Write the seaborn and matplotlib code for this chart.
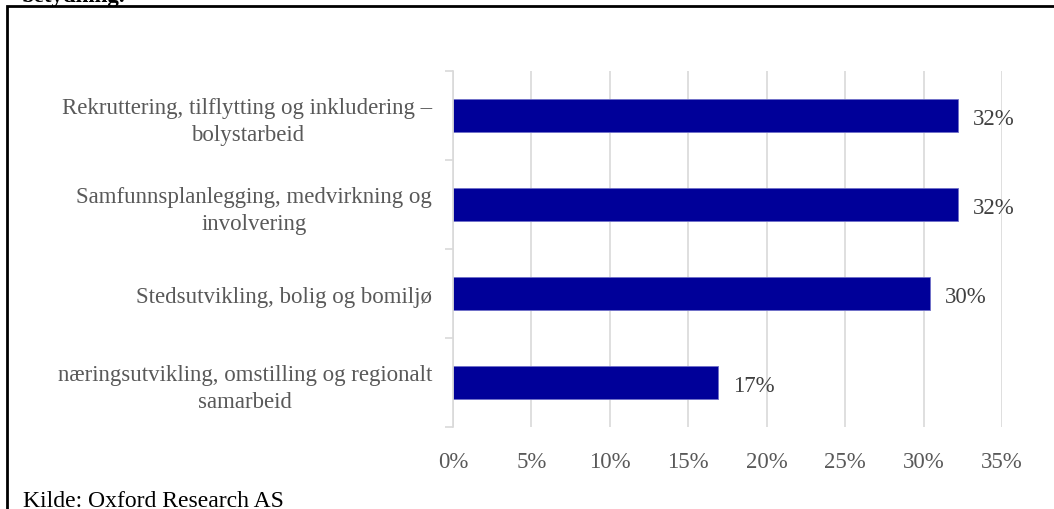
import matplotlib
matplotlib.use("Agg")
import matplotlib.pyplot as plt
import seaborn as sns
import pandas as pd
from matplotlib.patches import Rectangle
from matplotlib.ticker import FuncFormatter

categories = [
    "Rekruttering, tilflytting og inkludering \u2013\nbolystarbeid",
    "Samfunnsplanlegging, medvirkning og\ninvolvering",
    "Stedsutvikling, bolig og bomilj\u00f8",
    "n\u00e6ringsutvikling, omstilling og regionalt\nsamarbeid",
]
values = [32.2, 32.2, 30.4, 16.9]
value_labels = ["32%", "32%", "30%", "17%"]
x_ticks = [0, 5, 10, 15, 20, 25, 30, 35]

sns.set_theme(style="white")
plt.rcParams["font.family"] = ["Liberation Serif", "DejaVu Serif"]

df = pd.DataFrame({"kategori": categories, "andel": values})

fig = plt.figure(figsize=(10.54, 5.10), dpi=100)
ax = fig.add_axes([453 / 1054, 1 - 428 / 510, (1002 - 453) / 1054, (428 - 72) / 510])

sns.barplot(data=df, y="kategori", x="andel", orient="h", color="#000099",
            saturation=1, width=0.36, ax=ax, edgecolor="#6f6fc8", linewidth=0.6)

ax.set_xlim(0, 35)
ax.set_xticks(x_ticks)
ax.xaxis.set_major_formatter(FuncFormatter(lambda v, p: f"{int(round(v))}%"))
ax.grid(axis="x", color="#d9d9d9", linewidth=1.2)
ax.set_axisbelow(True)
for s in ["top", "right", "bottom"]:
    ax.spines[s].set_visible(False)
ax.spines["left"].set_color("#d9d9d9")
ax.spines["left"].set_linewidth(1.2)
ax.set_xlabel("")
ax.set_ylabel("")

# category boundary ticks on y axis
ax.set_yticks([i - 0.5 for i in range(len(categories) + 1)], minor=True)
ax.tick_params(axis="y", which="minor", length=6, color="#d9d9d9", width=1.2, left=True)
ax.tick_params(axis="y", which="major", length=0, pad=15, labelsize=16.5, labelcolor="#595959")
ax.tick_params(axis="x", which="major", length=0, pad=17, labelsize=16.5, labelcolor="#595959")
ax.set_ylim(len(categories) - 0.5, -0.5)
for lbl in ax.get_yticklabels():
    lbl.set_multialignment("center")
    lbl.set_linespacing(1.35)

for i, (v, t) in enumerate(zip(values, value_labels)):
    ax.annotate(t, xy=(v, i), xytext=(10.5, -2), textcoords="offset points",
                va="center", ha="left", fontsize=16.5, color="#404040")

# surrounding frame (extends beyond right and bottom edges)
fig.patches.append(Rectangle((7 / 1054, -0.1), 1.2, 1 - 7 / 510 + 0.1,
                             transform=fig.transFigure, fill=False,
                             edgecolor="black", linewidth=2.0))

fig.text(22 / 1054, 1 - 2 / 510, "betydning.", fontsize=16.5, fontweight="bold",
         color="black", ha="left", va="baseline")
fig.text(23 / 1054, 1 - 507 / 510, "Kilde: Oxford Research AS", fontsize=17,
         color="black", ha="left", va="baseline")

fig.savefig("out.png", dpi=100)
